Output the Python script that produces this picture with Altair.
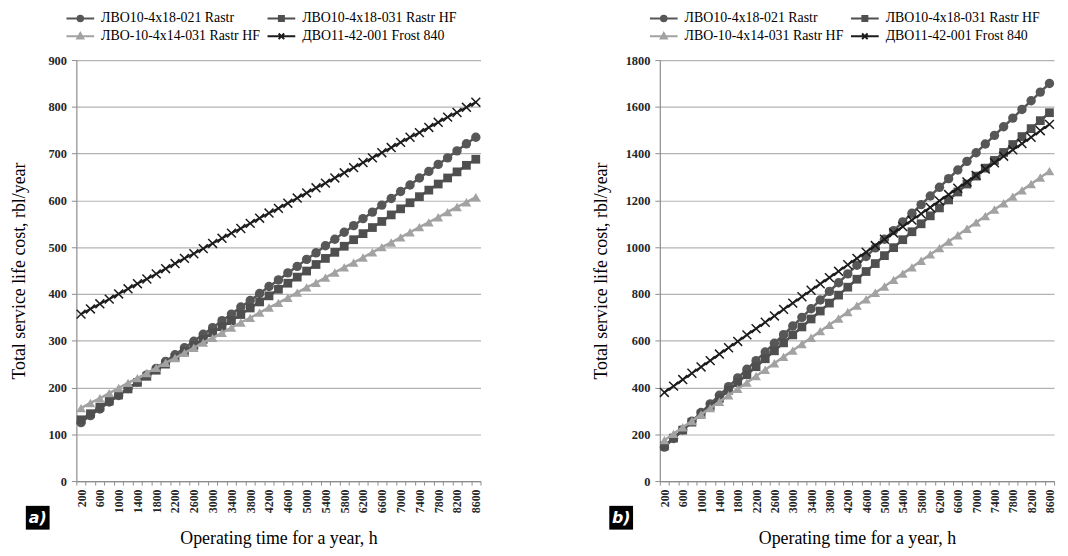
import altair as alt
import pandas as pd

# ---------------- data ----------------
hours = [200, 400, 600, 800, 1000, 1200, 1400, 1600, 1800, 2000, 2200, 2400, 2600,
         2800, 3000, 3200, 3400, 3600, 3800, 4000, 4200, 4400, 4600, 4800, 5000,
         5200, 5400, 5600, 5800, 6000, 6200, 6400, 6600, 6800, 7000, 7200, 7400,
         7600, 7800, 8000, 8200, 8400, 8600]

names = ["ЛВО10-4x18-021 Rastr", "ЛВО10-4x18-031 Rastr HF",
         "ЛВО-10-4x14-031 Rastr HF", "ДВО11-42-001 Frost 840"]

# panel a)
a_rastr = [125, 140, 154, 169, 183, 198, 212, 227, 241, 256, 270, 285, 299, 314, 328,
           343, 357, 372, 386, 401, 416, 430, 445, 459, 474, 488, 503, 517, 532, 546,
           561, 575, 590, 604, 619, 633, 648, 662, 677, 691, 706, 721, 735]
a_rastr_hf = [131, 144, 158, 171, 184, 197, 211, 224, 237, 250, 264, 277, 290, 303, 317,
              330, 343, 356, 370, 383, 396, 410, 423, 436, 449, 463, 476, 489, 502, 516,
              529, 542, 555, 569, 582, 595, 608, 622, 635, 648, 661, 675, 688]
a_lvo14 = [156, 167, 177, 188, 199, 210, 220, 231, 242, 253, 263, 274, 285, 296, 306,
           317, 328, 339, 349, 360, 371, 381, 392, 403, 414, 424, 435, 446, 457, 467,
           478, 489, 500, 510, 521, 532, 543, 553, 564, 575, 586, 596, 607]
a_frost = [357, 368, 379, 389, 400, 411, 422, 432, 443, 454, 465, 476, 486, 497, 508,
           519, 530, 540, 551, 562, 573, 583, 594, 605, 616, 627, 637, 648, 659, 670,
           681, 691, 702, 713, 724, 735, 745, 756, 767, 778, 788, 799, 810]

# panel b)
b_rastr = [145, 182, 219, 256, 293, 330, 367, 404, 441, 478, 515, 552, 589, 626, 663,
           700, 737, 774, 811, 848, 886, 923, 960, 997, 1034, 1071, 1108, 1145, 1182,
           1219, 1256, 1293, 1330, 1367, 1404, 1441, 1478, 1515, 1552, 1589, 1626, 1663, 1700]
b_rastr_hf = [150, 184, 218, 252, 286, 320, 354, 388, 421, 455, 489, 523, 557, 591, 625,
              659, 693, 727, 761, 795, 829, 863, 896, 930, 964, 998, 1032, 1066, 1100,
              1134, 1168, 1202, 1236, 1270, 1304, 1338, 1371, 1405, 1439, 1473, 1507, 1541, 1575]
b_lvo14 = [175, 202, 230, 257, 285, 312, 339, 367, 394, 421, 449, 476, 504, 531, 558,
           586, 613, 641, 668, 695, 723, 750, 777, 805, 832, 860, 887, 914, 942, 969,
           996, 1024, 1051, 1079, 1106, 1133, 1161, 1188, 1216, 1243, 1270, 1298, 1325]
b_frost = [379, 406, 434, 461, 488, 515, 543, 570, 597, 625, 652, 679, 706, 734, 761,
           788, 816, 843, 870, 897, 925, 952, 979, 1007, 1034, 1061, 1088, 1116, 1143,
           1170, 1198, 1225, 1252, 1279, 1307, 1334, 1361, 1389, 1416, 1443, 1470, 1498, 1525]

a_ticks = [0, 100, 200, 300, 400, 500, 600, 700, 800, 900]
b_ticks = [0, 200, 400, 600, 800, 1000, 1200, 1400, 1600, 1800]

x_title = "Operating time for a year, h"
y_title = "Total service life cost, rbl/year"

for s in (a_rastr, a_rastr_hf, a_lvo14, a_frost, b_rastr, b_rastr_hf, b_lvo14, b_frost):
    assert len(s) == len(hours)

# ---------------- styling ----------------
SERIF = "Liberation Serif"
colors = ["#575757", "#4f4f4f", "#a2a2a2", "#1c1c1c"]
line_w = [2.5, 2.5, 2.5, 2.0]
shapes = ["circle", "square", "triangle-up", "M-1,-1L1,1M-1,1L1,-1"]
sizes = [90, 78, 95, 80]
# legend symbols: a short line with the marker in its middle (unit = 7 px)
legend_paths = [
    "M-2,0L2,0M0.4,0A0.4,0.4,0,1,1,-0.4,0A0.4,0.4,0,1,1,0.4,0Z",
    "M-2,0L2,0M-0.36,-0.36L0.36,-0.36L0.36,0.36L-0.36,0.36Z",
    "M-2,0L2,0M0,-0.48L0.44,0.32L-0.44,0.32Z",
    "M-2,0L2,0M-0.4,-0.4L0.4,0.4M-0.4,0.4L0.4,-0.4",
]
# legend is filled column by column: order so that rows read like the reference
legend_order = [0, 2, 1, 3]
H = 425

# x-axis: ticks at category boundaries, labels at every second category
x_bounds = [h - 100 for h in hours] + [hours[-1] + 100]
x_axis_values = sorted(set(hours) | set(x_bounds))


def panel(series, yticks, width, tag, title_x):
    df = pd.DataFrame({
        "h": hours * len(series),
        "v": [v for s in series for v in s],
        "s": [n for n in names for _ in hours],
    })
    xenc = alt.X(
        "h:Q",
        scale=alt.Scale(domain=[x_bounds[0], x_bounds[-1]], nice=False, zero=False),
        axis=alt.Axis(
            values=x_axis_values, grid=False, labelAngle=-90, labelOverlap=False,
            labelFlush=False,
            labelExpr="(datum.value % 400 === 200) ? (datum.value + '') : ''",
            tickOpacity={"condition": {"test": "datum.value % 200 === 100", "value": 1}, "value": 0},
            tickSize=4, tickColor="#8c8c8c", domainColor="#8c8c8c", domainWidth=1.2,
            labelFont=SERIF, labelFontSize=12, labelFontWeight="bold",
            labelColor="#262626", labelPadding=4,
            titleFont=SERIF, titleFontSize=18, titleFontWeight="normal",
            titleColor="black", titlePadding=17,
        ),
        title=x_title,
    )
    yenc = alt.Y(
        "v:Q",
        scale=alt.Scale(domain=[yticks[0], yticks[-1]], nice=False),
        axis=alt.Axis(
            values=yticks, format="d", grid=True, gridColor="#b3b3b3", gridWidth=1.2,
            tickSize=5, tickColor="#8c8c8c", domainColor="#8c8c8c", domainWidth=1.2,
            labelFont=SERIF, labelFontSize=12.5, labelFontWeight="bold",
            labelColor="#262626", labelPadding=5,
            titleFont=SERIF, titleFontSize=18, titleFontWeight="normal",
            titleColor="black", titleX=title_x, titleY=H / 2, titleAngle=-90,
            titleAlign="center", titleBaseline="middle",
        ),
        title=y_title,
    )
    layers = []
    for i, n in enumerate(names):
        base = alt.Chart(df).transform_filter(alt.datum.s == n)
        layers.append(base.mark_line(color=colors[i], strokeWidth=line_w[i]).encode(x=xenc, y=yenc))
        if i < 3:
            pts = base.mark_point(shape=shapes[i], filled=True, size=sizes[i],
                                  color=colors[i], opacity=1)
        else:
            pts = base.mark_point(shape=shapes[i], filled=False, size=sizes[i],
                                  color=colors[i], opacity=1, strokeWidth=1.5)
        layers.append(pts.encode(x=xenc, y=yenc))

    leg = alt.Legend(
        orient="none", legendX=-10, legendY=-50, columns=2, title=None,
        symbolSize=196, symbolStrokeWidth=2, symbolOffset=6,
        symbolFillColor="#555555", symbolStrokeColor="#555555",
        labelFont=SERIF, labelFontSize=14, labelColor="black", labelOffset=13,
        columnPadding=3, rowPadding=3, padding=0, labelLimit=400,
    )
    dom = [names[k] for k in legend_order]
    dcol = [colors[k] for k in legend_order]
    dpath = [legend_paths[k] for k in legend_order]
    legend_layer = alt.Chart(df).transform_filter("datum.v < 0").mark_point(
        opacity=1, strokeWidth=2
    ).encode(
        x=xenc, y=yenc,
        fill=alt.Fill("s:N", scale=alt.Scale(domain=dom, range=dcol), legend=leg),
        stroke=alt.Stroke("s:N", scale=alt.Scale(domain=dom, range=dcol), legend=leg),
        shape=alt.Shape("s:N", scale=alt.Scale(domain=dom, range=dpath), legend=leg),
    )
    layers.append(legend_layer)

    tag_df = pd.DataFrame({"t": [tag]})
    box = alt.Chart(tag_df).mark_rect(color="black").encode(
        x=alt.value(-51), x2=alt.value(-27), y=alt.value(H + 25), y2=alt.value(H + 49)
    )
    txt = alt.Chart(tag_df).mark_text(
        color="white", font="DejaVu Sans", fontStyle="italic", fontWeight="bold",
        fontSize=16, align="center", baseline="middle"
    ).encode(x=alt.value(-39), y=alt.value(H + 37), text="t:N")
    layers += [box, txt]
    return alt.layer(*layers).properties(width=width, height=H)


pa = panel([a_rastr, a_rastr_hf, a_lvo14, a_frost], a_ticks, 408, "a)", -57)
pb = panel([b_rastr, b_rastr_hf, b_lvo14, b_frost], b_ticks, 398, "b)", -58.5)

chart = alt.hconcat(pa, pb, spacing=107).resolve_scale(
    fill="independent", stroke="independent", shape="independent"
).configure(font=SERIF).configure_axis(
    labelFont=SERIF, titleFont=SERIF
).configure_legend(
    labelFont=SERIF
).configure_view(stroke=None).properties(
    padding={"left": 3, "top": 0, "right": 0, "bottom": 0},
    background="white",
)

chart.save("out.html", embed_options={"renderer": "svg", "actions": False})
